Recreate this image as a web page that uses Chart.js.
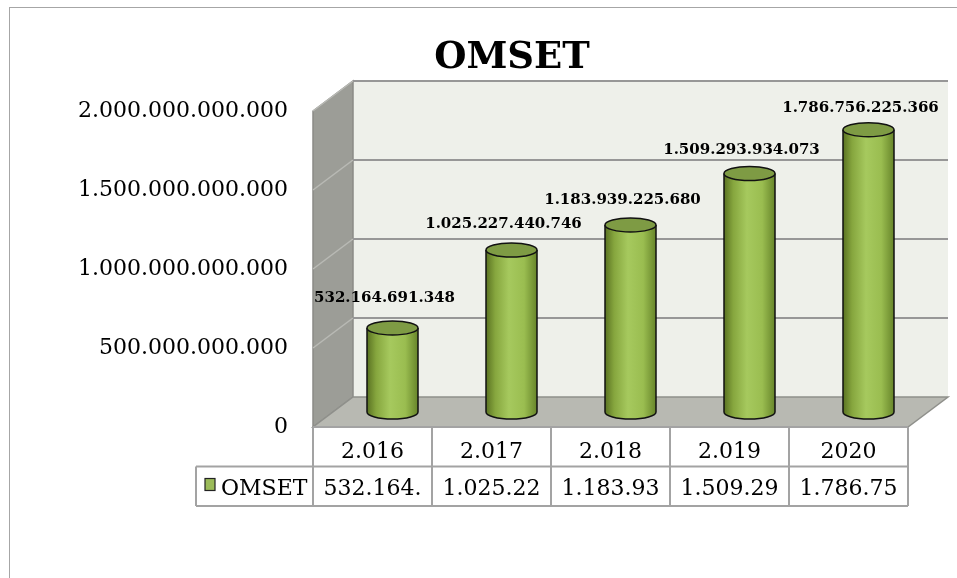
<!DOCTYPE html>
<html>
<head>
<meta charset="utf-8">
<script src="https://cdn.jsdelivr.net/npm/chart.js@4.4.1/dist/chart.umd.min.js"></script>
<style>
  html, body { margin: 0; padding: 0; background: #fff; }
  #wrap { width: 957px; height: 578px; }
</style>
</head>
<body>
<div id="wrap"><canvas id="omsetChart" width="957" height="578"></canvas></div>
<script>
const categories = ["2.016", "2.017", "2.018", "2.019", "2020"];
const omset = [532164691348, 1025227440746, 1183939225680, 1509293934073, 1786756225366];
const yTicks = [0, 500000000000, 1000000000000, 1500000000000, 2000000000000];
const seriesName = "OMSET";
const chartTitle = "OMSET";

// depth of the 3d box (back wall offset)
const DX = 40;
const DY = 30;
const SERIF = "'DejaVu Serif', serif";

function dotted(v) {
  return String(v).replace(/\B(?=(\d{3})+(?!\d))/g, ".");
}

const box3d = {
  id: "box3d",
  beforeDatasetsDraw(chart) {
    const { ctx, chartArea: a, scales: { y } } = chart;
    const L = a.left, R = a.right, T = a.top, B = a.bottom;
    ctx.save();

    // back wall
    ctx.fillStyle = "#eef0ea";
    ctx.fillRect(L + DX, T - DY, R - L, B - T);

    // side wall
    ctx.beginPath();
    ctx.moveTo(L, T);
    ctx.lineTo(L + DX, T - DY);
    ctx.lineTo(L + DX, B - DY);
    ctx.lineTo(L, B);
    ctx.closePath();
    ctx.fillStyle = "#9c9d97";
    ctx.fill();
    ctx.strokeStyle = "#8a8a86";
    ctx.lineWidth = 1.5;
    ctx.stroke();

    // floor
    ctx.beginPath();
    ctx.moveTo(L, B);
    ctx.lineTo(L + DX, B - DY);
    ctx.lineTo(R + DX, B - DY);
    ctx.lineTo(R, B);
    ctx.closePath();
    ctx.fillStyle = "#b8b9b2";
    ctx.fill();
    ctx.strokeStyle = "#8f908b";
    ctx.stroke();

    // gridlines
    yTicks.forEach((v) => {
      if (v === 0) return;
      const yy = y.getPixelForValue(v);
      ctx.beginPath();
      ctx.moveTo(L, yy);
      ctx.lineTo(L + DX, yy - DY);
      ctx.strokeStyle = "#b9bab5";
      ctx.lineWidth = 1.5;
      ctx.stroke();
      ctx.beginPath();
      ctx.moveTo(L + DX, yy - DY);
      ctx.lineTo(R + DX, yy - DY);
      ctx.strokeStyle = "#979797";
      ctx.lineWidth = 2;
      ctx.stroke();
    });
    ctx.restore();
  },

  afterDatasetsDraw(chart) {
    const { ctx, chartArea: a } = chart;
    const meta = chart.getDatasetMeta(0);
    ctx.save();

    meta.data.forEach((bar, i) => {
      const r = bar.width / 2;
      const ry = 7;
      const cx = bar.x + DX / 2;
      const top = bar.y - DY / 2;
      const bot = bar.base - DY / 2;

      const grad = ctx.createLinearGradient(cx - r, 0, cx + r, 0);
      grad.addColorStop(0, "#5a7222");
      grad.addColorStop(0.18, "#86a63e");
      grad.addColorStop(0.45, "#a6c95e");
      grad.addColorStop(0.75, "#9abd50");
      grad.addColorStop(1, "#67852a");

      ctx.beginPath();
      ctx.moveTo(cx - r, top);
      ctx.lineTo(cx - r, bot);
      ctx.ellipse(cx, bot, r, ry, 0, Math.PI, 0, true);
      ctx.lineTo(cx + r, top);
      ctx.ellipse(cx, top, r, ry, 0, 0, Math.PI, false);
      ctx.closePath();
      ctx.fillStyle = grad;
      ctx.fill();

      ctx.beginPath();
      ctx.moveTo(cx - r, top);
      ctx.lineTo(cx - r, bot);
      ctx.ellipse(cx, bot, r, ry, 0, Math.PI, 0, true);
      ctx.lineTo(cx + r, top);
      ctx.strokeStyle = "#111";
      ctx.lineWidth = 1.5;
      ctx.stroke();

      ctx.beginPath();
      ctx.ellipse(cx, top, r, ry, 0, 0, Math.PI * 2);
      ctx.fillStyle = "#7e9b44";
      ctx.fill();
      ctx.stroke();

      // value label
      ctx.font = "bold 15px " + SERIF;
      ctx.fillStyle = "#000";
      ctx.textAlign = "center";
      ctx.textBaseline = "middle";
      const off = 33 - 6.5 * omset[i] / 1e12;
      ctx.fillText(dotted(omset[i]), cx - 8, top - off);
    });

    // data table
    const L = a.left, R = a.right, B = a.bottom;
    const colW = (R - L) / categories.length;
    const rowH = 39.5;
    const legendLeft = 196;
    ctx.strokeStyle = "#a3a3a3";
    ctx.lineWidth = 2;
    ctx.beginPath();
    ctx.moveTo(L, B); ctx.lineTo(R, B);
    ctx.moveTo(legendLeft, B + rowH); ctx.lineTo(R, B + rowH);
    ctx.moveTo(legendLeft, B + rowH * 2); ctx.lineTo(R, B + rowH * 2);
    for (let k = 0; k <= categories.length; k++) {
      ctx.moveTo(L + colW * k, B);
      ctx.lineTo(L + colW * k, B + rowH * 2);
    }
    ctx.moveTo(legendLeft, B + rowH);
    ctx.lineTo(legendLeft, B + rowH * 2);
    ctx.stroke();

    ctx.font = "22px " + SERIF;
    ctx.fillStyle = "#000";
    ctx.textAlign = "center";
    ctx.textBaseline = "alphabetic";
    categories.forEach((c, k) => {
      ctx.fillText(c, L + colW * (k + 0.5), B + 31);
      ctx.fillText(dotted(omset[k]).slice(0, 8), L + colW * (k + 0.5), B + rowH + 28);
    });

    // legend key
    ctx.fillStyle = "#9bbb59";
    ctx.fillRect(205, B + rowH + 12, 10, 12);
    ctx.strokeStyle = "#222";
    ctx.lineWidth = 1.2;
    ctx.strokeRect(205, B + rowH + 12, 10, 12);
    ctx.fillStyle = "#000";
    ctx.textAlign = "left";
    ctx.fillText(seriesName, 221, B + rowH + 28);

    // title
    ctx.font = "bold 37px " + SERIF;
    ctx.textAlign = "center";
    ctx.fillText(chartTitle, 512, 68);

    // outer frame
    ctx.strokeStyle = "#a6a6a6";
    ctx.lineWidth = 1;
    ctx.strokeRect(9.5, 7.5, 960, 600);
    ctx.restore();
  }
};

new Chart(document.getElementById("omsetChart"), {
  type: "bar",
  data: {
    labels: categories,
    datasets: [{
      label: seriesName,
      data: omset,
      backgroundColor: "rgba(0,0,0,0)",
      borderWidth: 0,
      categoryPercentage: 1,
      barPercentage: 51 / 119,
    }],
  },
  options: {
    responsive: false,
    animation: false,
    layout: { padding: { left: 0, top: 111, right: 49, bottom: 151 } },
    plugins: {
      legend: { display: false },
      tooltip: { enabled: false },
      title: { display: false },
    },
    scales: {
      x: { display: false },
      y: {
        min: 0,
        max: 2000000000000,
        afterFit: (scale) => { scale.width = 313; },
        afterBuildTicks: (scale) => { scale.ticks = yTicks.map((v) => ({ value: v })); },
        grid: { display: false, drawTicks: false },
        border: { display: false },
        ticks: {
          padding: 25,
          color: "#000",
          font: { family: "DejaVu Serif", size: 22 },
          callback: (v) => dotted(v),
        },
      },
    },
  },
  plugins: [box3d],
});
</script>
</body>
</html>
